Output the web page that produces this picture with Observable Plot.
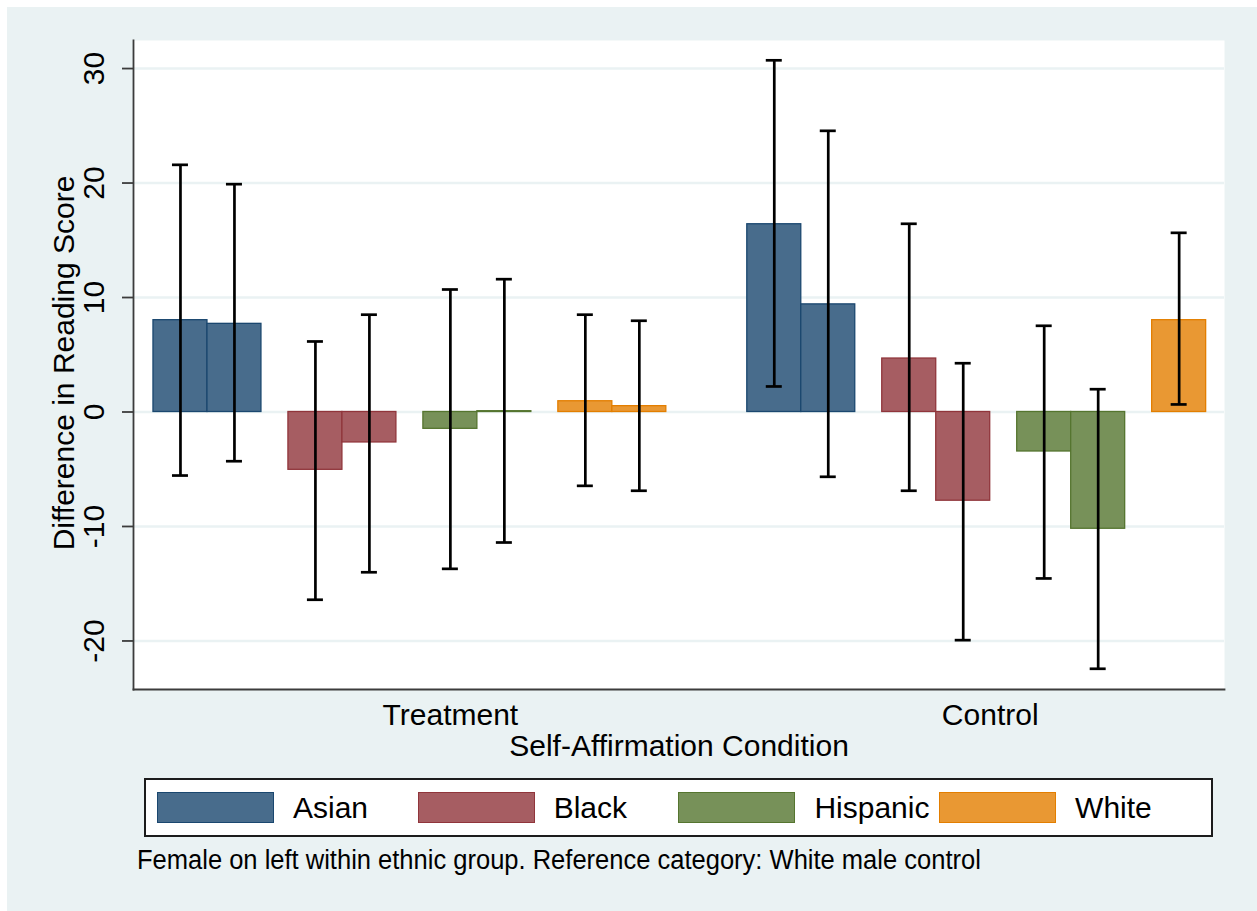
<!DOCTYPE html>
<html>
<head>
<meta charset="utf-8">
<script src="https://cdn.jsdelivr.net/npm/d3@7"></script>
<script src="https://cdn.jsdelivr.net/npm/@observablehq/plot@0.6"></script>
<style>
  html, body { margin: 0; padding: 0; background: #ffffff; }
  body { width: 1257px; height: 911px; position: relative; overflow: hidden; font-family: "Liberation Sans", Arial, sans-serif; }
  #bg { position: absolute; left: 7px; top: 7px; width: 1250px; height: 904px; background: #eaf2f3; }
  #chart { position: absolute; left: 0; top: 0; }
  #legend { position: absolute; left: 144px; top: 778px; width: 1069px; height: 59px; box-sizing: border-box; border: 2px solid #1c1c1c; background: #ffffff; }
  .item { position: absolute; top: 12px; height: 31px; }
  .sw { position: absolute; left: 0; top: 0; width: 117px; height: 31px; box-sizing: border-box; border: 1.5px solid; }
  .lab { position: absolute; left: 136px; top: -1px; font-size: 30px; line-height: 34px; white-space: nowrap; color: #000; }
  #caption { position: absolute; left: 137px; top: 845px; font-size: 27px; line-height: 30px; white-space: nowrap; color: #000; transform: scaleX(0.945); transform-origin: left top; }
</style>
</head>
<body>
<div id="bg"></div>
<div id="chart"></div>
<div id="legend"></div>
<div id="caption">Female on left within ethnic group. Reference category: White male control</div>
<script>
// ---------- data ----------
const conditions = ["Treatment", "Control"];
const ethnicities = ["Asian", "Black", "Hispanic", "White"];
const sexes = ["Female", "Male"];

// Treatment condition (order: Asian, Black, Hispanic, White)
const treatmentFemale   = [8.02, -5.05, -1.47, 0.94];
const treatmentFemaleLo = [-5.55, -16.40, -13.70, -6.45];
const treatmentFemaleHi = [21.59, 6.16, 10.70, 8.50];
const treatmentMale     = [7.70, -2.66, 0.07, 0.51];
const treatmentMaleLo   = [-4.30, -14.00, -11.40, -6.88];
const treatmentMaleHi   = [19.90, 8.50, 11.60, 7.97];

// Control condition (White male is the reference category: no bar)
const controlFemale   = [16.40, 4.67, -3.45, 8.02];
const controlFemaleLo = [2.23, -6.88, -14.54, 0.66];
const controlFemaleHi = [30.72, 16.44, 7.53, 15.65];
const controlMale     = [9.40, -7.75, -10.20, null];
const controlMaleLo   = [-5.66, -19.93, -22.43, null];
const controlMaleHi   = [24.56, 4.26, 1.99, null];

const yTicks = [-20, -10, 0, 10, 20, 30];

const colors = {
  Asian:    {fill: "#486c8c", stroke: "#1a476f"},
  Black:    {fill: "#a65d62", stroke: "#90353b"},
  Hispanic: {fill: "#779159", stroke: "#55752f"},
  White:    {fill: "#e99833", stroke: "#e37e00"}
};

// ---------- build table ----------
const series = {
  Treatment: {Female: [treatmentFemale, treatmentFemaleLo, treatmentFemaleHi], Male: [treatmentMale, treatmentMaleLo, treatmentMaleHi]},
  Control:   {Female: [controlFemale, controlFemaleLo, controlFemaleHi],       Male: [controlMale, controlMaleLo, controlMaleHi]}
};
// layout in bar-width units: each ethnic group = 2 bars + 0.5 gap, conditions separated by one extra unit
const groupStride = 2.5;
const conditionStride = ethnicities.length * groupStride + 1;
const rows = [];
conditions.forEach((c, ci) => {
  ethnicities.forEach((e, ei) => {
    sexes.forEach((s, si) => {
      const [v, lo, hi] = series[c][s];
      if (v[ei] == null) return;
      const x1 = ci * conditionStride + ei * groupStride + si;
      rows.push({condition: c, ethnicity: e, sex: s, value: v[ei], lo: lo[ei], hi: hi[ei], x1, x2: x1 + 1, xc: x1 + 0.5});
    });
  });
});
const condLabels = conditions.map((c, ci) => ({label: c, x: ci * conditionStride + (ci === 0 ? 5.5 : 4.5)}));

const chart = Plot.plot({
  width: 1257,
  height: 760,
  marginLeft: 133,
  marginRight: 33,
  marginTop: 40,
  marginBottom: 71,
  style: {background: "transparent", fontFamily: "'Liberation Sans', Arial, sans-serif", color: "#000"},
  x: {domain: [-0.37, 19.84], axis: null},
  y: {domain: [-24.24, 32.45], axis: null},
  marks: [
    Plot.frame({fill: "#ffffff", stroke: null}),
    Plot.ruleY(yTicks, {stroke: "#eaf2f3", strokeWidth: 2.5}),
    Plot.rect(rows, {x1: "x1", x2: "x2", y1: 0, y2: "value",
      fill: d => colors[d.ethnicity].fill, stroke: d => colors[d.ethnicity].stroke, strokeWidth: 1.3}),
    Plot.ruleX(rows, {x: "xc", y1: "lo", y2: "hi", stroke: "#000", strokeWidth: 2.7}),
    Plot.ruleY(rows, {y: "hi", x1: "xc", x2: "xc", insetLeft: -8, insetRight: -8, stroke: "#000", strokeWidth: 2.7}),
    Plot.ruleY(rows, {y: "lo", x1: "xc", x2: "xc", insetLeft: -8, insetRight: -8, stroke: "#000", strokeWidth: 2.7}),
    Plot.frame({anchor: "left", stroke: "#3c3c3c", strokeWidth: 1.8}),
    Plot.frame({anchor: "bottom", stroke: "#3c3c3c", strokeWidth: 1.8}),
    Plot.axisY(yTicks, {tickSize: 11, tickRotate: -90, tickPadding: 19, tickFormat: d => String(d), fontSize: 30, stroke: "#3c3c3c", strokeWidth: 1.8, fill: "#000", label: null}),
    Plot.text(["Difference in Reading Score"], {frameAnchor: "left", textAnchor: "middle", rotate: -90, dx: -60, dy: -2, lineAnchor: "bottom", fontSize: 30, fill: "#000"}),
    Plot.text(condLabels, {x: "x", text: "label", frameAnchor: "bottom", lineAnchor: "bottom", dy: 35, fontSize: 30, fill: "#000"}),
    Plot.text(["Self-Affirmation Condition"], {frameAnchor: "bottom", lineAnchor: "bottom", dy: 66, fontSize: 30, fill: "#000"})
  ]
});
document.getElementById("chart").appendChild(chart);

// ---------- legend ----------
const legend = document.getElementById("legend");
ethnicities.forEach((e, i) => {
  const item = document.createElement("div");
  item.className = "item";
  item.style.left = (11 + i * 260.7) + "px";
  const sw = document.createElement("div");
  sw.className = "sw";
  sw.style.background = colors[e].fill;
  sw.style.borderColor = colors[e].stroke;
  const lab = document.createElement("div");
  lab.className = "lab";
  lab.textContent = e;
  item.appendChild(sw);
  item.appendChild(lab);
  legend.appendChild(item);
});
</script>
</body>
</html>
